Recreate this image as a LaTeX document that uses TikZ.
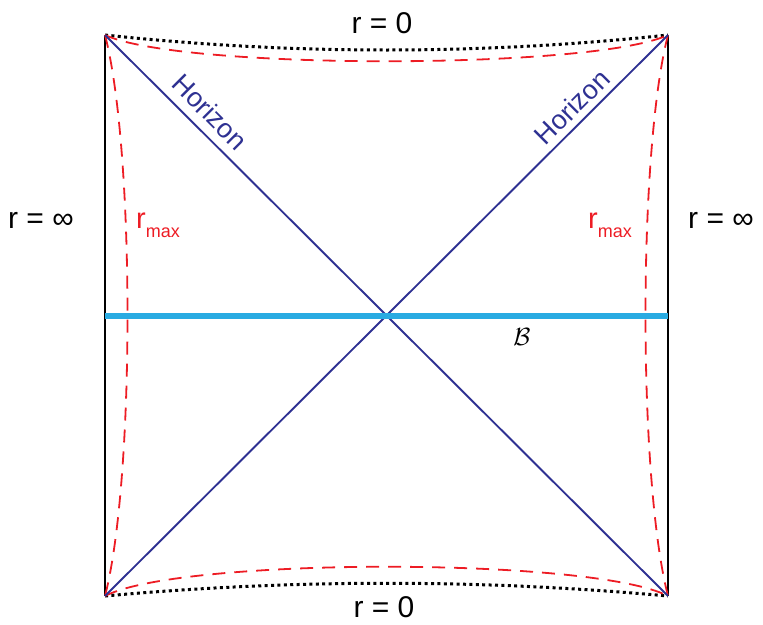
\documentclass[tikz,border=0pt]{standalone}
\usepackage{fontspec}
\setmainfont{Liberation Sans}
\usepackage{amsmath}
\definecolor{hblue}{RGB}{46,49,146}
\definecolor{bcyan}{RGB}{41,171,226}
\definecolor{rred}{RGB}{237,28,36}
\tikzset{
  bound/.style={line width=2.4pt,black},
  sing/.style={line width=3pt,black,dash pattern=on 3pt off 3.4pt},
  rmaxline/.style={line width=1.8pt,rred,dash pattern=on 13pt off 9pt},
  horizon/.style={line width=1.9pt,hblue},
  slice/.style={line width=6pt,bcyan},
  lbl/.style={inner sep=0pt,font=\fontsize{30}{34}\selectfont},
  hlbl/.style={inner sep=0pt,text=hblue,font=\fontsize{27}{30}\selectfont},
  rlbl/.style={inner sep=0pt,text=rred,anchor=base west},
}
\begin{document}
\begin{tikzpicture}[x=1pt,y=-1pt]
\useasboundingbox (0,0) rectangle (763,624);
\coordinate (TL) at (105,35);
\coordinate (TR) at (668,35);
\coordinate (BL) at (105,596);
\coordinate (BR) at (668,596);
\coordinate (SL) at (105,316);
\coordinate (SR) at (668,316);
% boundaries
\draw[bound] (TL) -- (BL);
\draw[bound] (TR) -- (BR);
% singularities
\draw[sing] (TL) .. controls (293,55) and (480,55) .. (TR);
\draw[sing] (BL) .. controls (293,579) and (480,579) .. (BR);
% r_max surfaces
\draw[rmaxline] (TL) .. controls (180,70) and (593,70) .. (TR);
\draw[rmaxline] (BL) .. controls (180,557) and (593,557) .. (BR);
\draw[rmaxline] (TL) .. controls (135,150) and (135,480) .. (BL);
\draw[rmaxline] (TR) .. controls (638,150) and (638,480) .. (BR);
% horizons
\draw[horizon] (TL) -- (BR);
\draw[horizon] (BL) -- (TR);
% slice
\draw[slice] (SL) -- (SR);
% labels
\node[lbl,anchor=base] (top) at (382,33) {r = 0};
\node[lbl,anchor=base] (bot) at (384,617) {r = 0};
\node[lbl,anchor=base west] (linf) at (8,228) {r = ∞};
\node[lbl,anchor=base west] (rinf) at (688,228) {r = ∞};
\node[hlbl,rotate=-45] (hl) at (210,112) {Horizon};
\node[hlbl,rotate=45] (hr) at (572,107) {Horizon};
\node[rlbl] (rml) at (136,228) {\fontsize{29}{30}\selectfont r\raisebox{-9pt}{\fontsize{18}{20}\selectfont max}};
\node[rlbl] (rmr) at (588,228) {\fontsize{29}{30}\selectfont r\raisebox{-9pt}{\fontsize{18}{20}\selectfont max}};
\node[inner sep=0pt,font=\fontsize{26}{28}\selectfont] (B) at (522,337) {$\mathcal{B}$};
\end{tikzpicture}
\end{document}
